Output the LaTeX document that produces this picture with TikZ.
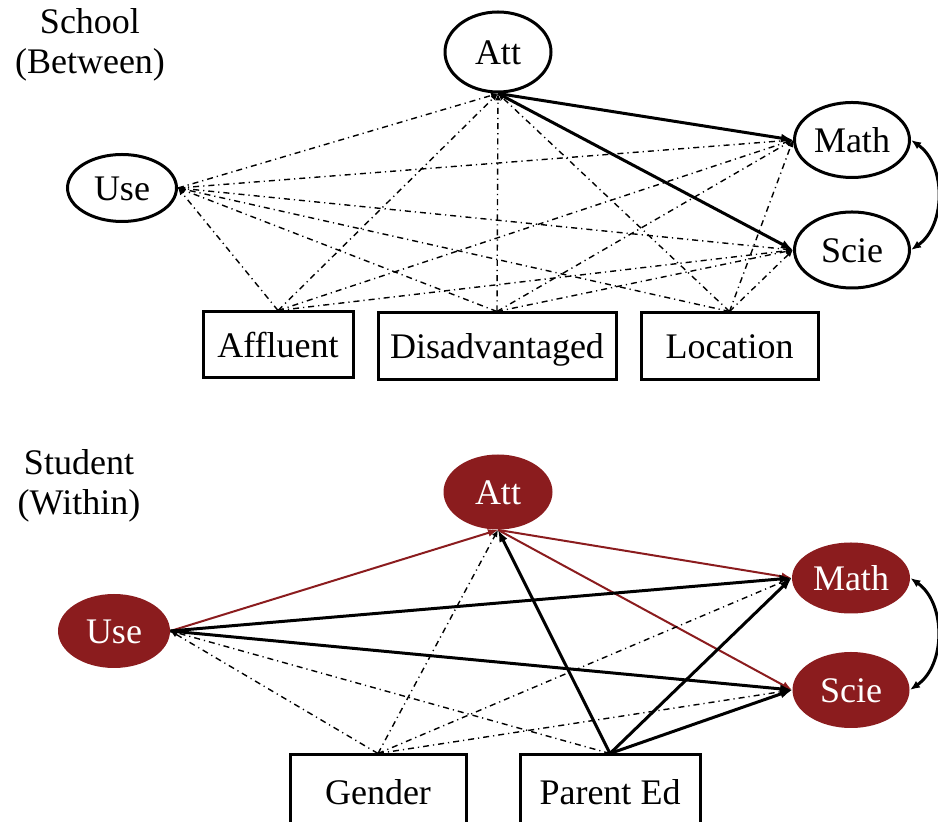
\documentclass[tikz,border=0pt]{standalone}
\usepackage{fontspec}
\setmainfont{Liberation Serif}
\usetikzlibrary{shapes.geometric,arrows.meta}
\definecolor{wine}{RGB}{139,28,30}

\begin{document}
\begin{tikzpicture}[x=0.5pt,y=-0.5pt,
  lbl/.style={font=\fontsize{18}{20}\selectfont},
  lat/.style={ellipse,draw,line width=1.5pt,inner sep=0pt,lbl,text height=13pt,text depth=0.5pt},
  latr/.style={ellipse,fill=wine,text=white,inner sep=0pt,lbl,text height=13pt,text depth=0.5pt},
  obs/.style={rectangle,draw,line width=1.5pt,inner sep=0pt,lbl,text height=13pt,text depth=0.5pt},
  reg/.style={line width=1.5pt,-{Latex[length=6pt,width=4.5pt]}},
  rreg/.style={line width=1pt,draw=wine,-{Latex[length=5pt,width=4pt]}},
  cov/.style={line width=0.7pt,dash pattern=on 3pt off 2pt on 0.6pt off 2pt,
    -{Latex[length=3.5pt,width=3pt]}},
  corr/.style={line width=1.5pt,{Latex[length=5pt,width=4pt]}-{Latex[length=5pt,width=4pt]}},
  level/.style={lbl,align=center}
]
\useasboundingbox (0,0) rectangle (938,822);

% ---------- School (between) level ----------
\node[level] (lev1) at (90,45) {School\\(Between)};
\node[lat,minimum width=53pt,minimum height=40pt] (att1) at (498,52) {Att};
\node[lat,minimum width=54.5pt,minimum height=33.5pt] (use1) at (122,188) {Use};
\node[lat,minimum width=57.5pt,minimum height=37.5pt] (math1) at (852,140) {Math};
\node[lat,minimum width=57.5pt,minimum height=38pt] (scie1) at (852,250) {Scie};
\node[obs,minimum width=75pt,minimum height=33pt] (aff) at (278,345) {Affluent};
\node[obs,minimum width=119pt,minimum height=33.5pt] (dis) at (497,346.5) {Disadvantaged};
\node[obs,minimum width=88.5pt,minimum height=33.5pt] (loc) at (729.5,346.5) {Location};

\draw[reg] (att1.south) -- (math1.west);
\draw[reg] (att1.south) -- (scie1.west);
\draw[cov] (use1.east) -- (att1.south);
\draw[cov] (use1.east) -- (math1.west);
\draw[cov] (use1.east) -- (scie1.west);
\foreach \b in {aff,dis,loc}{
  \draw[cov] (\b.north) -- (use1.east);
  \draw[cov] (\b.north) -- (att1.south);
  \draw[cov] (\b.north) -- (math1.west);
  \draw[cov] (\b.north) -- (scie1.west);
}
\draw[corr] (math1.east) to[bend left=55] (scie1.east);

% ---------- Student (within) level ----------
\node[level] (lev2) at (79,486) {Student\\(Within)};
\node[latr,minimum width=54.5pt,minimum height=37.5pt] (att2) at (498,492) {Att};
\node[latr,minimum width=56pt,minimum height=37pt] (use2) at (114,631) {Use};
\node[latr,minimum width=59pt,minimum height=35.5pt] (math2) at (851,578) {Math};
\node[latr,minimum width=58.5pt,minimum height=38pt] (scie2) at (851,690) {Scie};
\node[obs,minimum width=88pt,minimum height=37pt] (gen) at (378,792) {Gender};
\node[obs,minimum width=90pt,minimum height=37pt] (ped) at (610,792) {Parent Ed};

\draw[rreg] (use2.east) -- (att2.south);
\draw[rreg] (att2.south) -- (math2.west);
\draw[rreg] (att2.south) -- (scie2.west);
\draw[reg] (use2.east) -- (math2.west);
\draw[reg] (use2.east) -- (scie2.west);
\draw[reg] (ped.north) -- (att2.south);
\draw[reg] (ped.north) -- (math2.west);
\draw[reg] (ped.north) -- (scie2.west);
\draw[cov] (gen.north) -- (use2.east);
\draw[cov] (gen.north) -- (att2.south);
\draw[cov] (gen.north) -- (math2.west);
\draw[cov] (gen.north) -- (scie2.west);
\draw[cov] (ped.north) -- (use2.east);
\draw[corr] (math2.east) to[bend left=55] (scie2.east);
\end{tikzpicture}
\end{document}
